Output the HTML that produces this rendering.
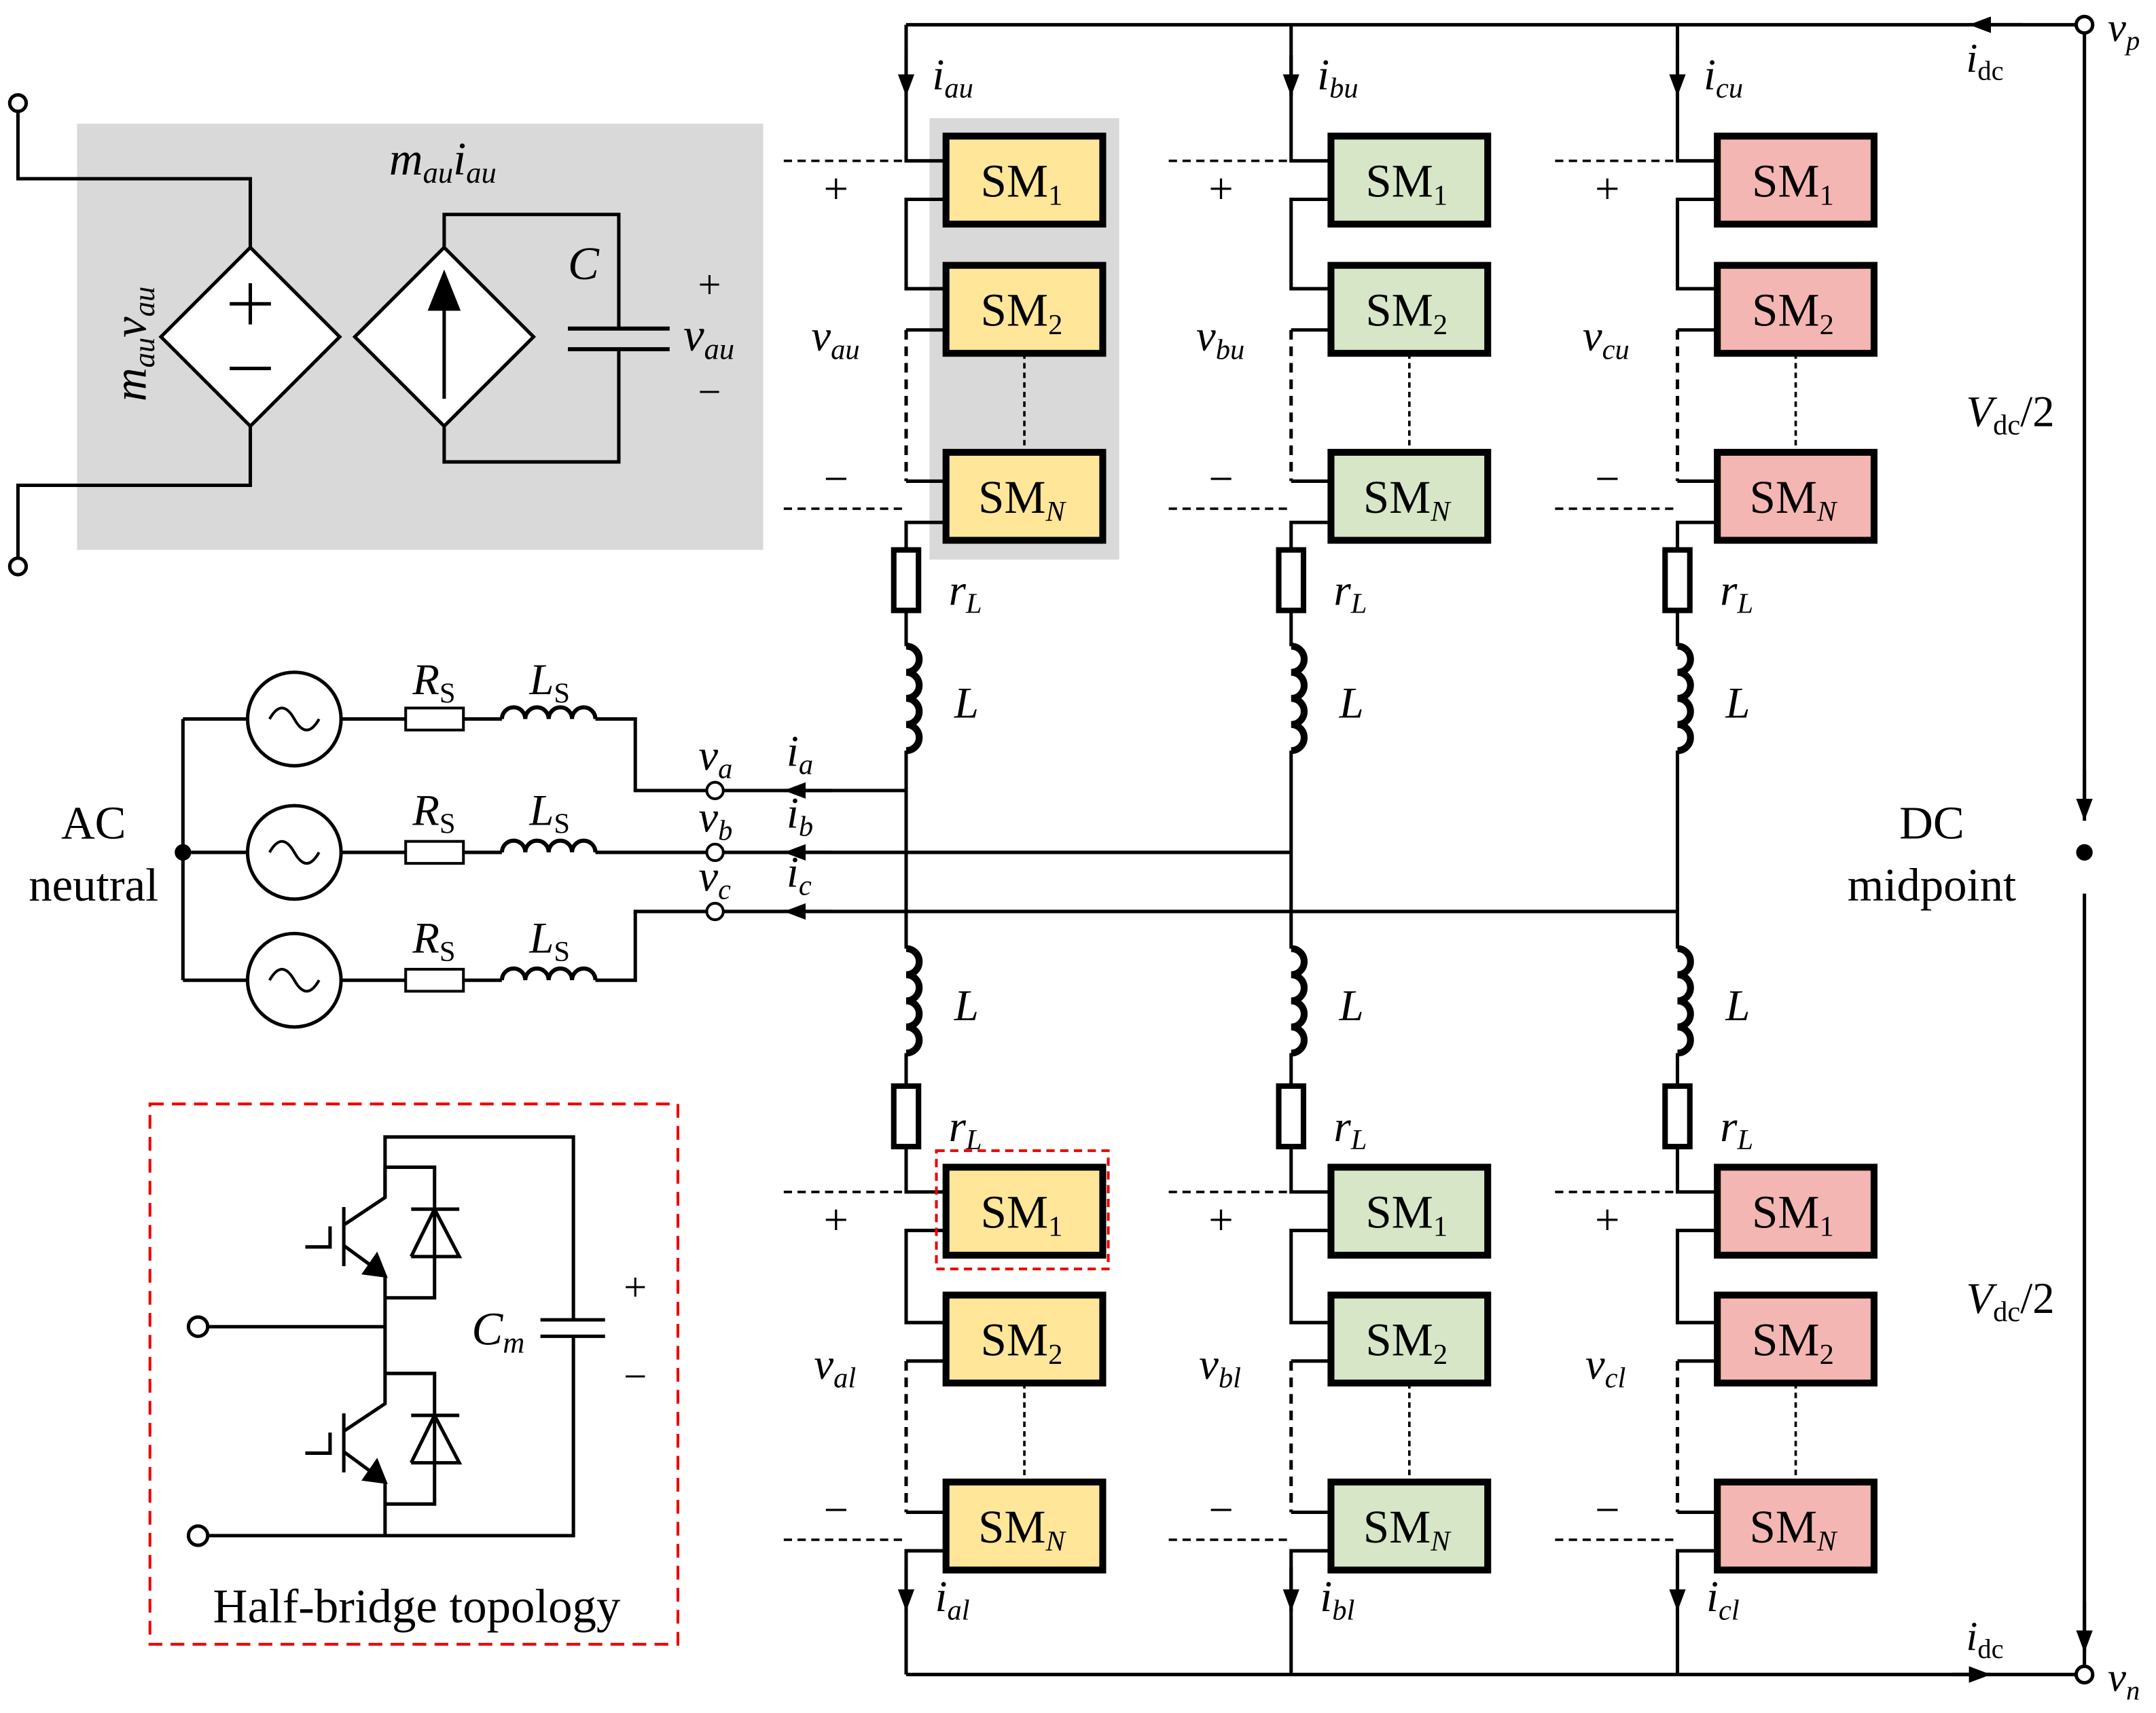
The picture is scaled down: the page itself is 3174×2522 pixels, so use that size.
<!DOCTYPE html>
<html><head><meta charset="utf-8"><style>
html,body{margin:0;padding:0;background:#fff;}
svg{display:block;}
text{font-family:"Liberation Serif","DejaVu Serif",serif;fill:#000;}
</style></head><body>
<svg width="3174" height="2522" viewBox="0 0 1568 1246" xmlns="http://www.w3.org/2000/svg">
<defs>
<marker id="ar" viewBox="0 0 16 12" refX="16" refY="6" markerWidth="16" markerHeight="12" markerUnits="userSpaceOnUse" orient="auto"><path d="M0,0 L16,6 L0,12 z"/></marker>
<g id="coil"><path d="M0,0 a9.5,9.5 0 0 1 0,19 a9.5,9.5 0 0 1 0,19 a9.5,9.5 0 0 1 0,19 a9.5,9.5 0 0 1 0,19" fill="none" stroke="#000" stroke-width="5"/></g>
<g id="hcoil"><path d="M0,0 a8.5,8.5 0 0 1 17,0 a8.5,8.5 0 0 1 17,0 a8.5,8.5 0 0 1 17,0 a8.5,8.5 0 0 1 17,0" fill="none" stroke="#000" stroke-width="3"/></g>
</defs>

<rect x="56" y="90" width="499" height="310" fill="#d9d9d9"/>
<rect x="676" y="86" width="138" height="321" fill="#d9d9d9"/>

<g stroke="#000" stroke-width="2.5" fill="none">
<path d="M659,18 H1510"/>
<path d="M659,1218 H1510"/>
<path d="M1516,24 V590"/>
<path d="M1516,650 V1212"/>
</g>
<g stroke="#000" stroke-width="2.5">
<line x1="1470" y1="18" x2="1432" y2="18" marker-end="url(#ar)"/>
<line x1="1420" y1="1218" x2="1448" y2="1218" marker-end="url(#ar)"/>
<line x1="1516" y1="560" x2="1516" y2="597" marker-end="url(#ar)"/>
<line x1="1516" y1="1165" x2="1516" y2="1202" marker-end="url(#ar)"/>
</g>
<circle cx="1516" cy="18" r="6" fill="#fff" stroke="#000" stroke-width="2.5"/>
<circle cx="1516" cy="1218" r="6" fill="#fff" stroke="#000" stroke-width="2.5"/>
<circle cx="1516" cy="620" r="6" fill="#000"/>

<text x="1533" y="30" font-size="30" font-style="italic">v<tspan font-size="20" dy="6">p</tspan></text>
<text x="1533" y="1230" font-size="30" font-style="italic">v<tspan font-size="20" dy="6">n</tspan></text>
<text x="1430" y="52" font-size="30" font-style="italic">i<tspan font-size="20" dy="6" font-style="normal">dc</tspan></text>
<text x="1430" y="1200" font-size="30" font-style="italic">i<tspan font-size="20" dy="6" font-style="normal">dc</tspan></text>
<text x="1430" y="310" font-size="32"><tspan font-style="italic">V</tspan><tspan font-size="21" dy="6">dc</tspan><tspan dy="-6">/2</tspan></text>
<text x="1430" y="955" font-size="32"><tspan font-style="italic">V</tspan><tspan font-size="21" dy="6">dc</tspan><tspan dy="-6">/2</tspan></text>
<text x="1405" y="610" font-size="34" text-anchor="middle">DC</text>
<text x="1405" y="655" font-size="34" text-anchor="middle">midpoint</text>

<g id="legA">
<g stroke="#000" stroke-width="2.5" fill="none">
<path d="M659,18 V117 H688"/>
<path d="M688,145 H659 V210 H688"/>
<path d="M688,240 H659"/>
<path d="M659,240 V350" stroke-dasharray="7,5"/>
<path d="M659,350 H688"/>
<path d="M688,380 H659 V400"/>
<path d="M659,444 V470"/>
<path d="M659,546 V690"/>
<path d="M659,766 V790"/>
<path d="M659,834 V867 H688"/>
<path d="M688,895 H659 V962 H688"/>
<path d="M688,990 H659"/>
<path d="M659,990 V1100" stroke-dasharray="7,5"/>
<path d="M659,1100 H688"/>
<path d="M688,1128 H659 V1218"/>
<path d="M570,117 H659 M570,370 H659 M570,867 H659 M570,1120 H659" stroke-dasharray="6,4" stroke-width="1.8"/>
<path d="M745,257 V329 M745,1006 V1078" stroke-dasharray="4,3" stroke-width="1.8"/>
</g>
<line x1="659" y1="40" x2="659" y2="70" stroke="#000" stroke-width="2.5" marker-end="url(#ar)"/>
<line x1="659" y1="1140" x2="659" y2="1172" stroke="#000" stroke-width="2.5" marker-end="url(#ar)"/>
<rect x="650" y="400" width="18" height="44" fill="#fff" stroke="#000" stroke-width="4"/>
<rect x="650" y="790" width="18" height="44" fill="#fff" stroke="#000" stroke-width="4"/>
<use href="#coil" x="659" y="470"/>
<use href="#coil" x="659" y="690"/>
</g>
<use href="#legA" x="280"/>
<use href="#legA" x="561"/>

<g stroke="#000" stroke-width="5">
<g fill="#ffe699">
<rect x="688" y="99" width="114" height="64"/><rect x="688" y="193" width="114" height="64"/><rect x="688" y="329" width="114" height="64"/>
<rect x="688" y="849" width="114" height="64"/><rect x="688" y="942" width="114" height="64"/><rect x="688" y="1078" width="114" height="64"/>
</g>
<g fill="#d6e6c6">
<rect x="968" y="99" width="114" height="64"/><rect x="968" y="193" width="114" height="64"/><rect x="968" y="329" width="114" height="64"/>
<rect x="968" y="849" width="114" height="64"/><rect x="968" y="942" width="114" height="64"/><rect x="968" y="1078" width="114" height="64"/>
</g>
<g fill="#f4b6b2">
<rect x="1249" y="99" width="114" height="64"/><rect x="1249" y="193" width="114" height="64"/><rect x="1249" y="329" width="114" height="64"/>
<rect x="1249" y="849" width="114" height="64"/><rect x="1249" y="942" width="114" height="64"/><rect x="1249" y="1078" width="114" height="64"/>
</g>
</g>
<rect x="681" y="837" width="125" height="86" fill="none" stroke="#e00" stroke-width="2" stroke-dasharray="6,4"/>

<g font-size="34" text-anchor="middle">
<g id="smtxt">
<text x="743" y="143">SM<tspan font-size="21" dy="6">1</tspan></text>
<text x="743" y="237">SM<tspan font-size="21" dy="6">2</tspan></text>
<text x="743" y="373">SM<tspan font-size="21" dy="6" font-style="italic">N</tspan></text>
<text x="743" y="893">SM<tspan font-size="21" dy="6">1</tspan></text>
<text x="743" y="986">SM<tspan font-size="21" dy="6">2</tspan></text>
<text x="743" y="1122">SM<tspan font-size="21" dy="6" font-style="italic">N</tspan></text>
<text x="608" y="148" font-size="32">+</text>
<text x="608" y="359" font-size="32">−</text>
<text x="608" y="898" font-size="32">+</text>
<text x="608" y="1109" font-size="32">−</text>
</g>
<use href="#smtxt" x="280"/>
<use href="#smtxt" x="561"/>
</g>

<g font-size="32" font-style="italic">
<g id="lbl">
<text x="690" y="440">r<tspan font-size="21" dy="6">L</tspan></text>
<text x="690" y="830">r<tspan font-size="21" dy="6">L</tspan></text>
<text x="694" y="522">L</text>
<text x="694" y="742">L</text>
</g>
<use href="#lbl" x="280"/>
<use href="#lbl" x="561"/>
<text x="678" y="65">i<tspan font-size="21" dy="6">au</tspan></text>
<text x="958" y="65">i<tspan font-size="21" dy="6">bu</tspan></text>
<text x="1239" y="65">i<tspan font-size="21" dy="6">cu</tspan></text>
<text x="680" y="1172">i<tspan font-size="21" dy="6">al</tspan></text>
<text x="960" y="1172">i<tspan font-size="21" dy="6">bl</tspan></text>
<text x="1241" y="1172">i<tspan font-size="21" dy="6">cl</tspan></text>
<text x="590" y="255">v<tspan font-size="21" dy="6">au</tspan></text>
<text x="870" y="255">v<tspan font-size="21" dy="6">bu</tspan></text>
<text x="1151" y="255">v<tspan font-size="21" dy="6">cu</tspan></text>
<text x="592" y="1003">v<tspan font-size="21" dy="6">al</tspan></text>
<text x="872" y="1003">v<tspan font-size="21" dy="6">bl</tspan></text>
<text x="1153" y="1003">v<tspan font-size="21" dy="6">cl</tspan></text>
</g>

<g stroke="#000" stroke-width="2.5" fill="none">
<path d="M133,523 V713"/>
<path d="M133,523 H180 M248,523 H295 M337,523 H365 M433,523 H462 V575 H514"/>
<path d="M133,620 H180 M248,620 H295 M337,620 H365 M433,620 H514"/>
<path d="M133,713 H180 M248,713 H295 M337,713 H365 M433,713 H462 V663 H514"/>
<path d="M526,575 H659 M526,620 H939 M526,663 H1220"/>
<circle cx="214" cy="523" r="34"/><circle cx="214" cy="620" r="34"/><circle cx="214" cy="713" r="34"/>
<path d="M196,523 q9,-16 18,0 t18,0 M196,620 q9,-16 18,0 t18,0 M196,713 q9,-16 18,0 t18,0" stroke-width="2"/>
</g>
<g fill="#fff" stroke="#000" stroke-width="2">
<rect x="295" y="515" width="42" height="16"/><rect x="295" y="612" width="42" height="16"/><rect x="295" y="705" width="42" height="16"/>
<circle cx="520" cy="575" r="6"/><circle cx="520" cy="620" r="6"/><circle cx="520" cy="663" r="6"/>
</g>
<use href="#hcoil" x="365" y="523"/><use href="#hcoil" x="365" y="620"/><use href="#hcoil" x="365" y="713"/>
<circle cx="133" cy="620" r="6" fill="#000"/>
<g stroke="#000" stroke-width="2.5">
<line x1="605" y1="575" x2="570" y2="575" marker-end="url(#ar)"/>
<line x1="605" y1="620" x2="570" y2="620" marker-end="url(#ar)"/>
<line x1="605" y1="663" x2="570" y2="663" marker-end="url(#ar)"/>
</g>
<g font-size="32" font-style="italic">
<text x="300" y="505">R<tspan font-size="21" dy="6" font-style="normal">S</tspan></text>
<text x="385" y="505">L<tspan font-size="21" dy="6" font-style="normal">S</tspan></text>
<text x="300" y="600">R<tspan font-size="21" dy="6" font-style="normal">S</tspan></text>
<text x="385" y="600">L<tspan font-size="21" dy="6" font-style="normal">S</tspan></text>
<text x="300" y="693">R<tspan font-size="21" dy="6" font-style="normal">S</tspan></text>
<text x="385" y="693">L<tspan font-size="21" dy="6" font-style="normal">S</tspan></text>
<text x="508" y="560">v<tspan font-size="21" dy="6">a</tspan></text>
<text x="508" y="605">v<tspan font-size="21" dy="6">b</tspan></text>
<text x="508" y="648">v<tspan font-size="21" dy="6">c</tspan></text>
<text x="572" y="557">i<tspan font-size="21" dy="6">a</tspan></text>
<text x="572" y="602">i<tspan font-size="21" dy="6">b</tspan></text>
<text x="572" y="645">i<tspan font-size="21" dy="6">c</tspan></text>
</g>
<text x="68" y="610" font-size="34" text-anchor="middle">AC</text>
<text x="68" y="655" font-size="34" text-anchor="middle">neutral</text>

<g stroke="#000" stroke-width="2.5" fill="none">
<path d="M13,81 V130 H182 V180"/>
<path d="M182,310 V353 H13 V405"/>
<path d="M323,180 V156 H450 V239"/>
<path d="M450,254 V336 H323 V310"/>
<path d="M413,239 H487 M413,254 H487" stroke-width="3"/>
<polygon points="182,180 247,245 182,310 117,245" fill="#fff"/>
<polygon points="323,180 388,245 323,310 258,245" fill="#fff"/>
<path d="M323,290 V215"/>
<path d="M182,206 V236 M167,221 H197 M167,268 H197"/>
</g>
<path d="M323,196 L311,226 L335,226 z" fill="#000"/>
<circle cx="13" cy="75" r="6" fill="#fff" stroke="#000" stroke-width="2.5"/>
<circle cx="13" cy="412" r="6" fill="#fff" stroke="#000" stroke-width="2.5"/>
<g font-size="34" font-style="italic">
<text x="283" y="127">m<tspan font-size="22" dy="6">au</tspan><tspan dy="-6">i</tspan><tspan font-size="22" dy="6">au</tspan></text>
<text x="413" y="203">C</text>
<text x="497" y="255">v<tspan font-size="22" dy="6">au</tspan></text>
<text transform="translate(106,292) rotate(-90)">m<tspan font-size="22" dy="6">au</tspan><tspan dy="-6">v</tspan><tspan font-size="22" dy="6">au</tspan></text>
</g>
<text x="516" y="217" font-size="30" text-anchor="middle">+</text>
<text x="516" y="295" font-size="30" text-anchor="middle">−</text>

<rect x="109" y="803" width="384" height="393" fill="none" stroke="#e00" stroke-width="2" stroke-dasharray="10,6"/>
<g stroke="#000" stroke-width="2.5" fill="none">
<path d="M280,871 V827 H417 V960"/>
<path d="M417,972 V1117 H150"/>
<path d="M393,960 H440 M393,972 H440"/>
<path d="M150,965 H280"/>
<path d="M280,1117 V1094"/>
<g id="igbt">
<path d="M280,849 V871 L250,891 M250,878 V921 M222,907 H240 V892 M250,906 L280,928 V944"/>
<path d="M280,849 H316 V944 H280 M299,879.5 H334 M299,914 H334 L316,879.5 L299,914"/>
<path d="M265,926 L280,928 L274,913 z" fill="#000"/>
</g>
<use href="#igbt" y="150"/>
<path d="M280,944 V999"/>
</g>
<circle cx="144" cy="965" r="7" fill="#fff" stroke="#000" stroke-width="2.5"/>
<circle cx="144" cy="1117" r="7" fill="#fff" stroke="#000" stroke-width="2.5"/>
<text x="343" y="978" font-size="34" font-style="italic">C<tspan font-size="22" dy="6">m</tspan></text>
<text x="462" y="946" font-size="30" text-anchor="middle">+</text>
<text x="462" y="1011" font-size="30" text-anchor="middle">−</text>
<text x="303" y="1180" font-size="35" text-anchor="middle">Half-bridge topology</text>
</svg>
</body></html>
